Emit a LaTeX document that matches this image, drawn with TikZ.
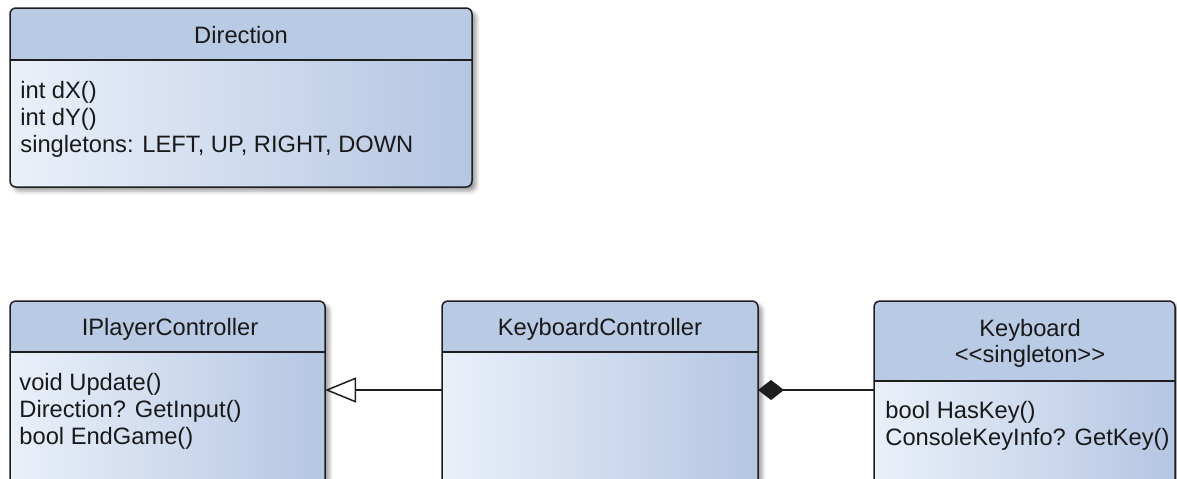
\documentclass[tikz,border=0pt]{standalone}
\usepackage{fontspec}
\setmainfont{Liberation Sans}
\usepackage{tikz}
\usetikzlibrary{arrows.meta,shadows.blur}

\definecolor{headfill}{RGB}{185,202,228}
\definecolor{bodylight}{RGB}{234,240,249}
\definecolor{bodydark}{RGB}{181,198,227}
\definecolor{boxline}{RGB}{30,30,30}
\definecolor{textcol}{RGB}{25,25,25}

\tikzset{
  classbox/.style={draw=boxline, line width=0.75pt, rounded corners=3pt,
    anchor=north west, inner sep=0pt, outer sep=0pt,
    left color=bodylight, right color=bodydark,
    blur shadow={shadow xshift=2pt, shadow yshift=-2pt, shadow blur radius=2pt, shadow opacity=40},
    path picture={
      \fill[headfill, sharp corners] (path picture bounding box.north west) rectangle ([yshift=-#1]path picture bounding box.north east);
      \draw[boxline, line width=0.75pt, sharp corners] ([yshift=-#1]path picture bounding box.north west) -- ([yshift=-#1]path picture bounding box.north east);
    }},
  classname/.style={anchor=base, inner sep=0pt, text=textcol},
  member/.style={anchor=base west, inner sep=0pt, text=textcol},
  link/.style={draw=boxline, line width=0.75pt}
}

\begin{document}
\begin{tikzpicture}[x=0.5pt, y=-0.5pt, font=\fontsize{11.85}{13.5}\selectfont]
\clip (0,0) rectangle (1177,478);

% class boxes
\node[classbox=26pt, minimum width=231pt, minimum height=89.5pt] (dir) at (10,8) {};
\node[classbox=25.5pt, minimum width=157.5pt, minimum height=115pt] (ipc) at (10,301) {};
\node[classbox=25.5pt, minimum width=158pt, minimum height=115pt] (kbc) at (442,301) {};
\node[classbox=40pt, minimum width=150.5pt, minimum height=115pt] (kbd) at (874,301) {};

% names
\node[classname] (dir-name) at (241,43) {Direction};
\node[classname] (ipc-name) at (170,335) {IPlayerController};
\node[classname] (kbc-name) at (600,335) {KeyboardController};
\node[classname] (kbd-name) at (1030,336) {Keyboard};
\node[classname] (kbd-stereo) at (1030,362) {<{}<singleton>{}>};

% members
\foreach \t [count=\i from 0] in {int dX(), int dY(), {singletons: LEFT, UP, RIGHT, DOWN}}
  \node[member] (dir-\i) at (20,98+27*\i) {\t};
\foreach \t [count=\i from 0] in {void Update(), Direction? GetInput(), bool EndGame()}
  \node[member] (ipc-\i) at (19,390+27*\i) {\t};
\foreach \t [count=\i from 0] in {bool HasKey(), ConsoleKeyInfo? GetKey()}
  \node[member] (kbd-\i) at (885,418+27*\i) {\t};

% relations
\coordinate (lnk) at (0,390);
\draw[link, -{Triangle[open, length=15.5pt, width=12.5pt, line width=0.75pt]}] (kbc.west |- lnk) -- (ipc.east |- lnk);
\draw[link, {Diamond[length=13pt, width=10pt]}-] (kbc.east |- lnk) -- (kbd.west |- lnk);
\end{tikzpicture}
\end{document}
